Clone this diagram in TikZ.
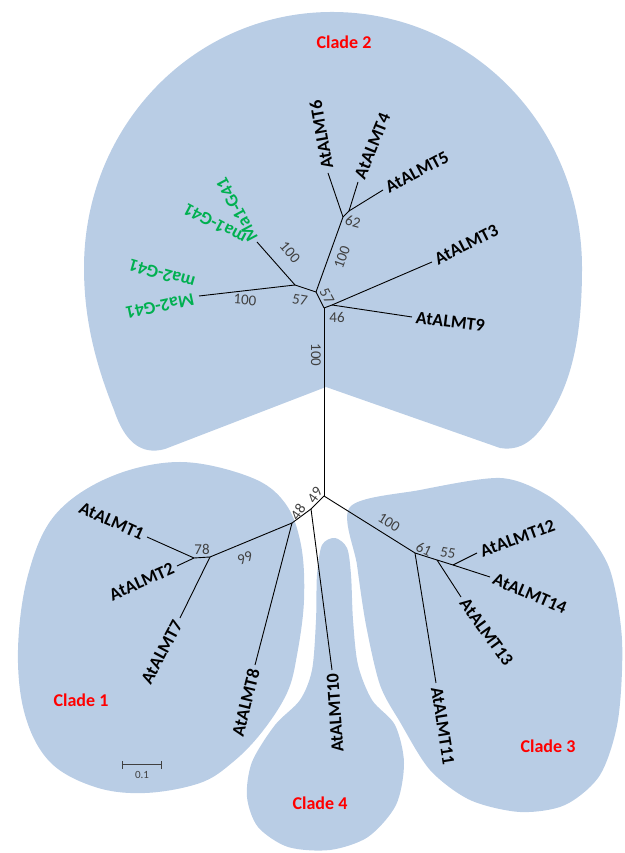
\documentclass[tikz,border=0pt]{standalone}
\usepackage{fontspec}
\setmainfont{Carlito}
\usetikzlibrary{arrows}
\definecolor{cladefill}{HTML}{B9CDE5}
\definecolor{leafgreen}{HTML}{00B050}
\definecolor{bootgray}{HTML}{404040}

\begin{document}
\begin{tikzpicture}[x=1pt, y=1pt]
			\tikzstyle{clade} = [fill=cladefill, draw=none]
			\tikzstyle{branch} = [draw=black, line width=0.9pt]
			\tikzstyle{leaf} = [font=\fontsize{18}{20}\selectfont\bfseries, inner sep=4pt]
			\tikzstyle{maleaf} = [leaf, text=leafgreen, inner sep=0pt]
			\tikzstyle{boot} = [font=\fontsize{15}{16}\selectfont, text=bootgray, inner sep=0pt]
			\tikzstyle{cladename} = [font=\fontsize{18}{20}\selectfont\bfseries, text=red]
			\useasboundingbox (0,0) rectangle (624,853);
			% clade areas
			\begin{scope}
			\fill[clade] (326,466) -- (165,404) .. controls (140,397) and (124,413) .. (114,443)
				.. controls (96,488) and (84,533) .. (84,585) .. controls (84,728) and (195,841) .. (332,841)
				.. controls (470,841) and (582,728) .. (582,585) .. controls (582,518) and (572,478) .. (556,448)
				.. controls (540,418) and (525,401) .. (500,405) -- cycle;
			\fill[clade] plot[smooth cycle, tension=0.6] coordinates {(180,391) (250,376) (285,350) (301,308)
				(304,253) (297,198) (287,160) (262,121) (233,91) (200,70) (145,60) (95,66) (50,91) (25,138)
				(18,203) (28,278) (55,338) (110,376)};
			\fill[clade] plot[smooth cycle, tension=0.5] coordinates {(322,308) (335,315) (347,305) (351,278)
				(353,233) (358,188) (372,153) (395,128) (404,90) (396,48) (368,16) (330,3) (288,6) (258,26)
				(247,56) (252,91) (275,128) (300,153) (312,183) (316,233) (317,278)};
			\fill[clade] plot[smooth cycle, tension=0.5] coordinates {(350,346) (420,363) (500,375) (547,358)
				(583,326) (610,283) (622,213) (618,133) (600,78) (565,48) (520,41) (470,53) (430,83)
				(400,131) (380,168) (366,228) (357,288)};
			\end{scope}
			% inner nodes
			\coordinate (A) at (349,642);
			\coordinate (B) at (343,636);
			\coordinate (D) at (295,568);
			\coordinate (E) at (316,561);
			\coordinate (F) at (324,545);
			\coordinate (G) at (332,548);
			\coordinate (H) at (324,357);
			\coordinate (I) at (311,344);
			\coordinate (J) at (292,330);
			\coordinate (K) at (210,296);
			\coordinate (L) at (194,295);
			\coordinate (M) at (415,300);
			\coordinate (N) at (437,293);
			\coordinate (P) at (453,288);
			% tips
			\coordinate (t1) at (147,316);
			\coordinate (t2) at (177,287);
			\coordinate (t3) at (432,591);
			\coordinate (t4) at (358,671);
			\coordinate (t5) at (383,663);
			\coordinate (t6) at (328,680);
			\coordinate (t7) at (180,235);
			\coordinate (t8) at (255,188);
			\coordinate (t9) at (412,536);
			\coordinate (t10) at (332,183);
			\coordinate (t11) at (436,170);
			\coordinate (t12) at (477,300);
			\coordinate (t13) at (461,256);
			\coordinate (t14) at (490,276);
			\coordinate (tMa1) at (257,611);
			\coordinate (tMa2) at (199,557);
			% branches
			\path[branch]
			(F) edge (G)
			(G) edge (t3)
			(G) edge (t9)
			(F) edge (E)
			(E) edge (B)
			(B) edge (t6)
			(B) edge (A)
			(A) edge (t4)
			(A) edge (t5)
			(E) edge (D)
			(D) edge (tMa1)
			(D) edge (tMa2)
			(F) edge (H)
			(H) edge (I)
			(H) edge (M)
			(I) edge (t10)
			(I) edge (J)
			(J) edge (t8)
			(J) edge (K)
			(K) edge (t7)
			(K) edge (L)
			(L) edge (t1)
			(L) edge (t2)
			(M) edge (t11)
			(M) edge (N)
			(N) edge (t13)
			(N) edge (P)
			(P) edge (t12)
			(P) edge (t14)
			;
			% leaf names
			\node[leaf, anchor=west, rotate=100] (l6) at (t6) {AtALMT6};
			\node[leaf, anchor=west, rotate=68] (l4) at (t4) {AtALMT4};
			\node[leaf, anchor=west, rotate=28] (l5) at (t5) {AtALMT5};
			\node[leaf, anchor=west, rotate=27] (l3) at (t3) {AtALMT3};
			\node[leaf, anchor=west, rotate=-7] (l9) at (t9) {AtALMT9};
			\node[leaf, anchor=east, rotate=-24] (l1) at (t1) {AtALMT1};
			\node[leaf, anchor=east, rotate=24] (l2) at (t2) {AtALMT2};
			\node[leaf, anchor=east, rotate=62] (l7) at (t7) {AtALMT7};
			\node[leaf, anchor=east, rotate=76] (l8) at (t8) {AtALMT8};
			\node[leaf, anchor=east, rotate=94] (l10) at (t10) {AtALMT10};
			\node[leaf, anchor=west, rotate=-81] (l11) at (t11) {AtALMT11};
			\node[leaf, anchor=west, rotate=20] (l12) at (t12) {AtALMT12};
			\node[leaf, anchor=west, rotate=-54] (l13) at (t13) {AtALMT13};
			\node[leaf, anchor=west, rotate=-23] (l14) at (t14) {AtALMT14};
			\node[maleaf, rotate=118] (lMa1) at (237,643) {Ma1-G41};
			\node[maleaf, rotate=152] (lma1) at (215,629) {ma1-G41};
			\node[maleaf, rotate=164] (lma2) at (162,579) {ma2-G41};
			\node[maleaf, rotate=192] (lMa2) at (160,547) {Ma2-G41};
			% bootstrap values
			\node[boot, rotate=-15] (b62) at (353,631) {62};
			\node[boot, rotate=70] (bB) at (342,596) {100};
			\node[boot, rotate=-10] (bD) at (300,553) {57};
			\node[boot, rotate=-62] (bE) at (327,557) {57};
			\node[boot] (b46) at (337,536) {46};
			\node[boot, rotate=-4] (bMa2) at (245,553) {100};
			\node[boot, rotate=-50] (bMa1) at (290,601) {100};
			\node[boot, rotate=-90] (bF) at (316,498) {100};
			\node[boot, rotate=55] (b49) at (315,358) {49};
			\node[boot, rotate=55] (b48) at (298,341) {48};
			\node[boot, rotate=22] (b99) at (245,295) {99};
			\node[boot] (b78) at (202,304) {78};
			\node[boot, rotate=-32] (bM) at (389,331) {100};
			\node[boot, rotate=-25] (b61) at (424,304) {61};
			\node[boot, rotate=-10] (b55) at (448,300) {55};
			% clade names
			\node[cladename] (c1) at (81,153) {Clade 1};
			\node[cladename] (c2) at (344,811) {Clade 2};
			\node[cladename] (c3) at (548,107) {Clade 3};
			\node[cladename] (c4) at (320,50) {Clade 4};
			% scale bar
			\coordinate (s0) at (122,88);
			\coordinate (s1) at (162,88);
			\draw[|-|, line width=1pt, bootgray] (s0) -- node[font=\fontsize{11}{12}\selectfont, text=bootgray, below=3pt] (sl) {0.1} (s1);
			\end{tikzpicture}
\end{document}
